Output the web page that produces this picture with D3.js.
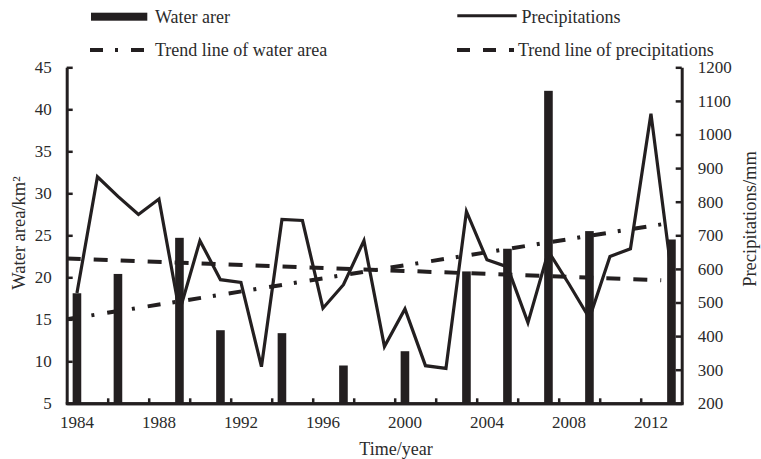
<!DOCTYPE html>
<html>
<head>
<meta charset="utf-8">
<script src="https://cdn.jsdelivr.net/npm/d3@7"></script>
<style>
  body { margin: 0; background: #fff; }
  svg text { font-family: "Liberation Serif", "Times New Roman", serif; fill: #2b2b2b; }
</style>
</head>
<body>
<div id="chart"></div>
<script>
// years on the x axis
var years = d3.range(1984, 2014)
var yearLabels = [1984, 1988, 1992, 1996, 2000, 2004, 2008, 2012]

// water area (bars), only some years have a value
var waterYears = [1984, 1986, 1989, 1991, 1994, 1997, 2000, 2003, 2005, 2007, 2009, 2013]
var waterArea = [18.1, 20.4, 24.7, 13.7, 13.35, 9.5, 11.2, 20.7, 23.4, 42.2, 25.5, 24.5]

// precipitation per year (line)
var precip = [528, 874, 816, 762, 808, 473, 684, 568, 560, 309,
              747, 744, 483, 553, 684, 369, 481, 312, 304, 771,
              627, 606, 440, 652, 555, 453, 637, 660, 1062, 588]

// trend lines, read at both ends
var trendYears = [1983.5, 2012.5]
var waterTrend = [15.0, 26.3]
var precipTrend = [631, 566]

var leftTicks = d3.range(5, 50, 5)
var rightTicks = d3.range(200, 1300, 100)

var W = 761, H = 459
var margin = {top: 67.3, right: 79.3, bottom: 55.7, left: 66.7},
    width = W - margin.left - margin.right,
    height = H - margin.top - margin.bottom
var ink = "#231f20"

var svg = d3.select("#chart").append("svg")
    .attr("width", W)
    .attr("height", H)
var g = svg.append("g")
    .attr("transform", "translate(" + margin.left + "," + margin.top + ")")

// scales
var x = d3.scaleBand().domain(years).range([0, width]).padding(0)
var bw = x.bandwidth()
var xYear = d3.scaleLinear().domain([1984, 2013]).range([x(1984) + bw / 2, x(2013) + bw / 2])
var xIdx = d3.scaleLinear().domain([0, years.length]).range([0, width])
var yL = d3.scaleLinear().domain([5, 45]).range([height, 0])
var yR = d3.scaleLinear().domain([200, 1200]).range([height, 0])

// bars
var barW = bw * 0.42
g.selectAll(".bar")
    .data(waterYears.map(function(d, i) { return {year: d, value: waterArea[i]} }))
    .enter()
    .append("rect")
    .attr("class", "bar")
    .attr("fill", ink)
    .attr("x", function(d) { return x(d.year) + (bw - barW) / 2 })
    .attr("width", barW)
    .attr("y", function(d) { return yL(d.value) })
    .attr("height", function(d) { return height - yL(d.value) })

// precipitation line
var line = d3.line()
    .x(function(d, i) { return xYear(years[i]) })
    .y(function(d) { return yR(d) })
g.append("path")
    .datum(precip)
    .attr("fill", "none")
    .attr("stroke", ink)
    .attr("stroke-width", 3.2)
    .attr("stroke-linejoin", "miter")
    .attr("d", line)

// trend lines
var dashDot = "13,12,3,13"
var dashed = "14,13"
g.append("path")
    .datum(waterTrend)
    .attr("fill", "none")
    .attr("stroke", ink)
    .attr("stroke-width", 4)
    .attr("stroke-dasharray", dashDot)
    .attr("d", d3.line().x(function(d, i) { return xYear(trendYears[i]) }).y(function(d) { return yL(d) }))
g.append("path")
    .datum(precipTrend)
    .attr("fill", "none")
    .attr("stroke", ink)
    .attr("stroke-width", 4)
    .attr("stroke-dasharray", dashed)
    .attr("d", d3.line().x(function(d, i) { return xYear(trendYears[i]) }).y(function(d) { return yR(d) }))

// axes
function styleAxis(sel) {
  sel.select(".domain").attr("stroke", ink).attr("stroke-width", 3)
  sel.selectAll(".tick line").attr("stroke", ink).attr("stroke-width", 2.5)
  sel.selectAll(".tick text").style("font-size", "17px").attr("fill", "#2b2b2b")
}

g.append("g")
    .attr("class", "yaxis")
    .call(d3.axisLeft(yL).tickValues(leftTicks).tickSizeInner(-6).tickSizeOuter(0).tickPadding(15))
    .call(styleAxis)

g.append("g")
    .attr("class", "yaxis2")
    .attr("transform", "translate(" + width + ",0)")
    .call(d3.axisRight(yR).tickValues(rightTicks).tickFormat(d3.format("d")).tickSizeInner(-6).tickSizeOuter(0).tickPadding(16))
    .call(styleAxis)

// small tick marks every two years, pointing up
g.append("g")
    .attr("class", "xticks")
    .attr("transform", "translate(0," + height + ")")
    .call(d3.axisBottom(xIdx).tickValues(d3.range(2, years.length, 2)).tickSizeInner(-5).tickSizeOuter(0).tickFormat(""))
    .call(styleAxis)

g.append("g")
    .attr("class", "xaxis")
    .attr("transform", "translate(0," + height + ")")
    .call(d3.axisBottom(x).tickValues(yearLabels).tickSize(0).tickPadding(13))
    .call(styleAxis)
    .call(function(s) { s.select(".domain").attr("stroke-linecap", "square") })

// axis titles
svg.append("text")
    .attr("transform", "translate(18.5,233) rotate(-90)")
    .attr("text-anchor", "middle")
    .attr("dy", "0.35em")
    .style("font-size", "18.5px")
    .text("Water area/km²")

svg.append("text")
    .attr("transform", "translate(750,219) rotate(-90)")
    .attr("text-anchor", "middle")
    .attr("dy", "0.35em")
    .style("font-size", "18.5px")
    .text("Precipitations/mm")

svg.append("text")
    .attr("x", 396)
    .attr("y", 448.3)
    .attr("text-anchor", "middle")
    .attr("dy", "0.35em")
    .style("font-size", "18px")
    .text("Time/year")

// legend
var leg = svg.append("g").attr("class", "legend")
leg.append("rect")
    .attr("x", 91).attr("y", 12.7).attr("width", 56.3).attr("height", 8)
    .attr("fill", ink)
leg.append("line")
    .attr("x1", 457.3).attr("x2", 516.7).attr("y1", 15.7).attr("y2", 15.7)
    .attr("stroke", ink).attr("stroke-width", 3)
leg.append("line")
    .attr("x1", 90).attr("x2", 144).attr("y1", 50).attr("y2", 50)
    .attr("stroke", ink).attr("stroke-width", 4).attr("stroke-dasharray", dashDot)
leg.append("line")
    .attr("x1", 457).attr("x2", 514).attr("y1", 50).attr("y2", 50)
    .attr("stroke", ink).attr("stroke-width", 4).attr("stroke-dasharray", "13,13")

var legendItems = [
  {label: "Water arer", x: 155, y: 16.7},
  {label: "Precipitations", x: 521.5, y: 16.7},
  {label: "Trend line of water area", x: 155, y: 50},
  {label: "Trend line of precipitations", x: 518, y: 50}
]
leg.selectAll(".legtext")
    .data(legendItems)
    .enter()
    .append("text")
    .attr("class", "legtext")
    .attr("x", function(d) { return d.x })
    .attr("y", function(d) { return d.y })
    .attr("dy", "0.35em")
    .style("font-size", "18px")
    .text(function(d) { return d.label })
</script>
</body>
</html>
